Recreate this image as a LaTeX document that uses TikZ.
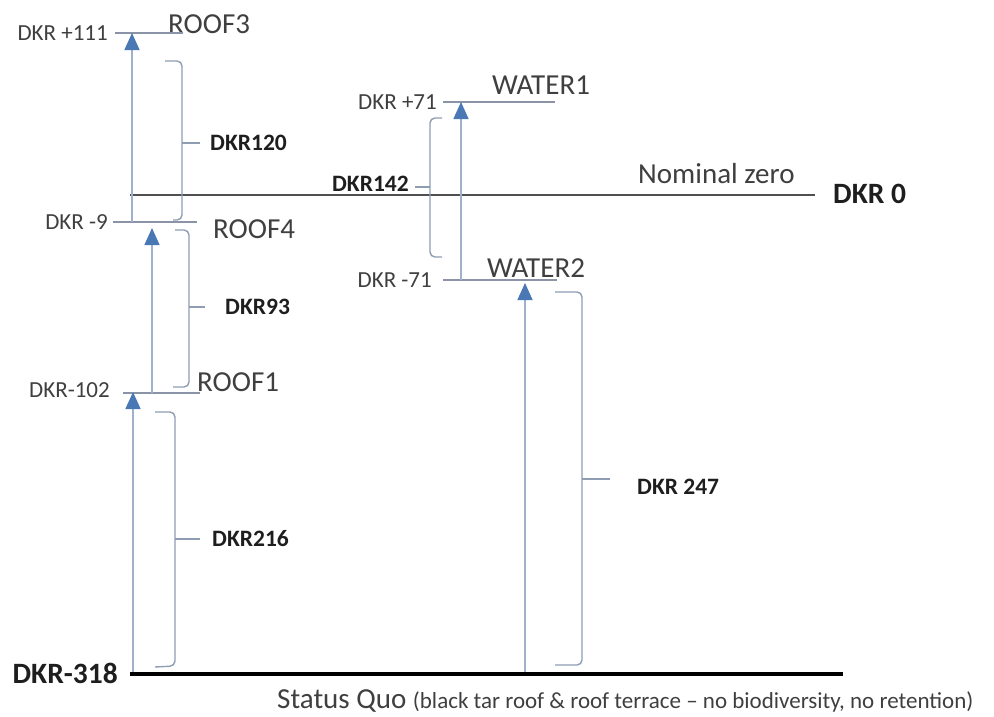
\documentclass[tikz,border=0pt]{standalone}
\usepackage{fontspec}
\setmainfont{Carlito}
\usetikzlibrary{arrows.meta}
\definecolor{txtgrey}{HTML}{3F3F3F}
\definecolor{txtdark}{HTML}{1E1E1E}
\definecolor{lvlgrey}{HTML}{8A94A6}
\definecolor{zerogrey}{HTML}{505050}
\definecolor{arrline}{HTML}{9FB1CC}
\definecolor{arrhead}{HTML}{4A78B5}
\definecolor{brgrey}{HTML}{8E9CB4}
\begin{document}
\begin{tikzpicture}[x=1pt,y=-1pt,
  lvl/.style={font=\fontsize{23}{27}\selectfont, text=txtgrey, inner sep=0pt},
  nm/.style={font=\fontsize{29}{34}\selectfont, text=txtgrey, inner sep=0pt},
  dim/.style={font=\bfseries\fontsize{23.5}{28}\selectfont, text=txtdark, inner sep=0pt},
  big/.style={font=\bfseries\fontsize{29.5}{34}\selectfont, text=txtdark, inner sep=0pt},
  levelline/.style={draw=lvlgrey, line width=1.3pt},
  rise/.style={draw=arrline, line width=1.5pt, -{Triangle[width=15pt,length=17pt,color=arrhead]}},
  brace/.style={draw=brgrey, line width=1.4pt, rounded corners=5pt},
  tick/.style={draw=brgrey, line width=1.4pt}
]
\useasboundingbox (0,0) rectangle (994,716);

% labels
\node[lvl,anchor=east] (l111) at (108,33) {DKR +111};
\node[nm,anchor=west] (roof3) at (168,24) {ROOF3};
\node[dim,anchor=west] (d120) at (210,143) {DKR120};
\node[nm,anchor=west] (nomz) at (638,174) {Nominal zero};
\node[big,anchor=west] (dkr0) at (833,194) {DKR 0};
\node[dim,anchor=east] (d142) at (409,184) {DKR142};
\node[lvl,anchor=east] (l9) at (108,222) {DKR -9};
\node[nm,anchor=west] (roof4) at (213,229) {ROOF4};
\node[dim,anchor=west] (d93) at (225,307) {DKR93};
\node[lvl,anchor=east] (l102) at (110,390) {DKR-102};
\node[nm,anchor=west] (roof1) at (197,382) {ROOF1};
\node[dim,anchor=west] (d216) at (212,539) {DKR216};
\node[big,anchor=east] (l318) at (118,673) {DKR-318};
\node[lvl,anchor=east] (l71p) at (437,102) {DKR +71};
\node[nm,anchor=west] (water1) at (492,85) {WATER1};
\node[lvl,anchor=east] (l71m) at (432,280) {DKR -71};
\node[nm,anchor=west] (water2) at (487,268) {WATER2};
\node[dim,anchor=west] (d247) at (637,487) {DKR 247};
\node[anchor=base west, inner sep=0pt, text=txtgrey] (sq) at (277,708)
  {\fontsize{29}{34}\selectfont Status Quo \fontsize{23}{27}\selectfont(black tar roof \& roof terrace -- no biodiversity, no retention)};

% level coordinates
\coordinate (r3a) at (115,33);  \coordinate (r3b) at (183,33);
\coordinate (z0a) at (130,195); \coordinate (z0b) at (815,195);
\coordinate (r4a) at (113,222); \coordinate (r4b) at (197,222);
\coordinate (r1a) at (123,393); \coordinate (r1b) at (200,393);
\coordinate (w1a) at (443,102); \coordinate (w1b) at (555,102);
\coordinate (w2a) at (443,280); \coordinate (w2b) at (557,280);
\coordinate (bsa) at (130,674); \coordinate (bsb) at (843,674);

\draw[levelline] (r3a) -- (r3b);
\draw[draw=zerogrey, line width=1.4pt] (z0a) -- (z0b);
\draw[levelline] (r4a) -- (r4b);
\draw[levelline] (r1a) -- (r1b);
\draw[levelline] (w1a) -- (w1b);
\draw[levelline] (w2a) -- (w2b);
\draw[line width=4pt, black] (bsa) -- (bsb);

% rising arrows
\coordinate (a3s) at (132,222); \coordinate (a3e) at (132,33);
\coordinate (a4s) at (152,393); \coordinate (a4e) at (152,228);
\coordinate (a1s) at (133,672); \coordinate (a1e) at (133,392);
\coordinate (aw1s) at (461,280); \coordinate (aw1e) at (461,102);
\coordinate (aw2s) at (525,672); \coordinate (aw2e) at (525,283);
\draw[rise] (a3s) -- (a3e);
\draw[rise] (a4s) -- (a4e);
\draw[rise] (a1s) -- (a1e);
\draw[rise] (aw1s) -- (aw1e);
\draw[rise] (aw2s) -- (aw2e);

% braces
\draw[brace] (165,61) -- (182,61) -- (182,220) -- (173,220);
\draw[tick] (182,143) -- (200,143);
\draw[brace] (175,230) -- (189,230) -- (189,387) -- (173,387);
\draw[tick] (189,307) -- (205,307);
\draw[brace] (155,412) -- (175,412) -- (175,666) -- (155,667);
\draw[tick] (175,539) -- (200,539);
\draw[brace] (442,118) -- (430,118) -- (430,257) -- (442,257);
\draw[tick] (430,187) -- (415,187);
\draw[brace] (555,292) -- (582,292) -- (582,665) -- (555,665);
\draw[tick] (582,479) -- (610,479);
\end{tikzpicture}
\end{document}
